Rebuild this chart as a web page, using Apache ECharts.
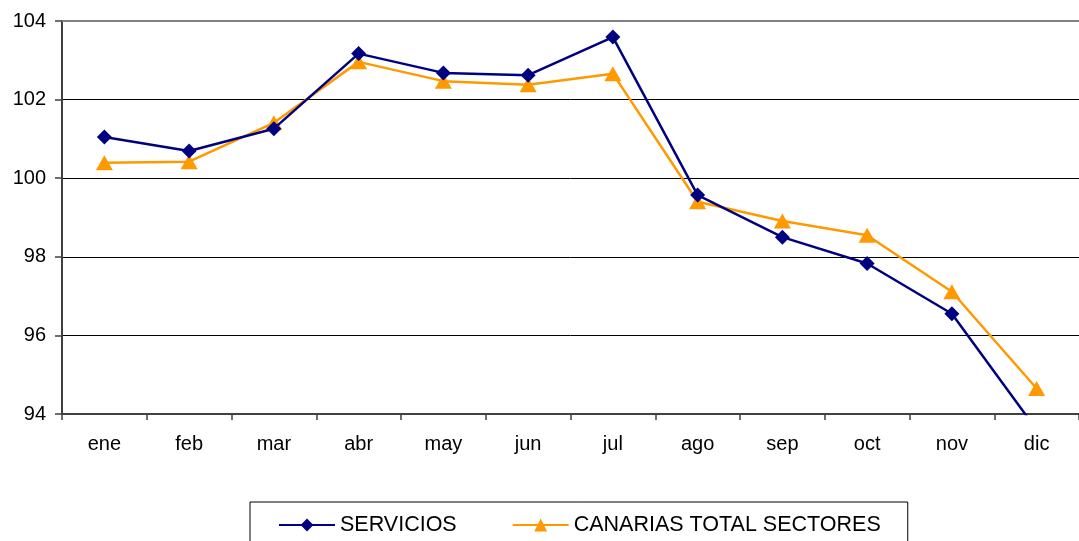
<!DOCTYPE html>
<html>
<head>
<meta charset="utf-8">
<script src="https://cdn.jsdelivr.net/npm/echarts@6/dist/echarts.min.js"></script>
<style>
html,body{margin:0;padding:0;background:#fff;}
#chart{width:1079px;height:541px;}
</style>
</head>
<body>
<div id="chart"></div>
<script>
const categories = ['ene','feb','mar','abr','may','jun','jul','ago','sep','oct','nov','dic'];
const servicios = [101.05, 100.69, 101.26, 103.17, 102.68, 102.62, 103.59, 99.57, 98.50, 97.83, 96.55, 93.6];
const canarias = [100.39, 100.42, 101.41, 102.96, 102.47, 102.38, 102.66, 99.40, 98.91, 98.55, 97.11, 94.65];
const seriesNames = ['SERVICIOS', 'CANARIAS TOTAL SECTORES'];
const yMin = 94, yMax = 104, yStep = 2;

const font = "'Liberation Sans', Arial, sans-serif";
const chart = echarts.init(document.getElementById('chart'), null, {renderer: 'canvas'});
chart.setOption({
  animation: false,
  backgroundColor: '#fff',
  grid: {left: 62, top: 21, width: 1018, height: 393, containLabel: false},
  legend: {
    left: 250, top: 502,
    orient: 'horizontal',
    borderColor: '#000', borderWidth: 1,
    padding: [12, 27, 30, 28],
    itemWidth: 56, itemHeight: 16, itemGap: 55,
    textStyle: {fontFamily: font, fontSize: 21.5, color: '#000'},
    data: seriesNames
  },
  xAxis: [{
    type: 'category',
    data: categories,
    boundaryGap: true,
    axisLine: {lineStyle: {color: '#404040', width: 2}},
    axisTick: {show: true, length: 6, lineStyle: {color: '#404040', width: 1.5}},
    axisLabel: {fontFamily: font, fontSize: 20, color: '#000', margin: 20}
  }, {
    type: 'category',
    data: categories,
    position: 'top',
    axisLine: {lineStyle: {color: '#808080', width: 2}},
    axisTick: {show: false},
    axisLabel: {show: false}
  }],
  yAxis: {
    type: 'value',
    min: yMin, max: yMax, interval: yStep,
    axisLine: {show: true, lineStyle: {color: '#404040', width: 2}},
    axisTick: {show: true, length: 7, lineStyle: {color: '#404040', width: 1.5}},
    axisLabel: {fontFamily: font, fontSize: 20, color: '#000', margin: 16},
    splitLine: {show: true, lineStyle: {color: '#000', width: 1}}
  },
  series: [{
    name: seriesNames[0],
    type: 'line',
    data: servicios,
    clip: true,
    color: '#000080',
    symbol: 'diamond',
    symbolSize: 15,
    lineStyle: {color: '#000080', width: 2.5},
    itemStyle: {color: '#000080'},
    z: 3
  }, {
    name: seriesNames[1],
    type: 'line',
    data: canarias,
    clip: true,
    color: '#FF9900',
    symbol: 'triangle',
    symbolSize: [17, 15],
    lineStyle: {color: '#FF9900', width: 2.5},
    itemStyle: {color: '#FF9900'},
    z: 2
  }]
});
</script>
</body>
</html>
